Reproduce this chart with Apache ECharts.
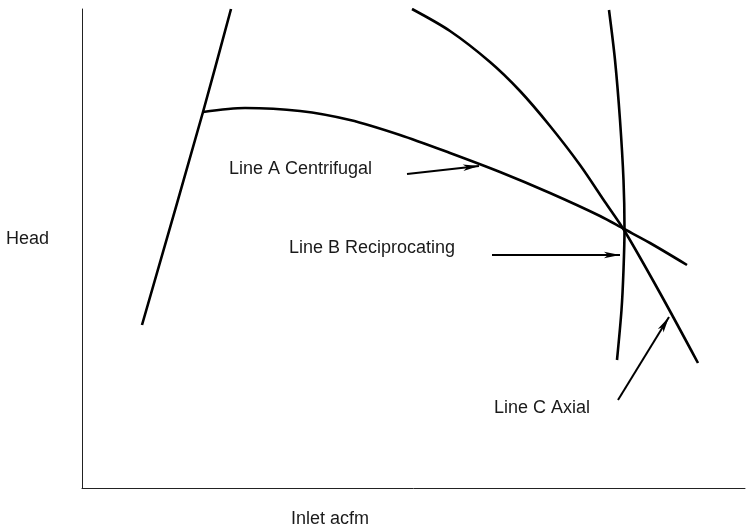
<!DOCTYPE html>
<html>
<head>
<meta charset="utf-8">
<script src="https://cdn.jsdelivr.net/npm/echarts@6/dist/echarts.min.js"></script>
<style>html,body{margin:0;padding:0;background:#fff;}#c{width:747px;height:529px;}</style>
</head>
<body>
<div id="c"></div>
<script>
// Arbitrary units (no ticks in the original): x = inlet acfm, y = head
var surgeLine = [[60, 163], [121, 376], [149, 479]];
var lineA = [[121, 376], [163, 380], [218, 377], [268, 368], [318, 353], [368, 335], [418, 316], [468, 295], [518, 272], [542, 259], [568, 245], [605, 223]];
var lineB = [[527, 478], [533, 428], [538, 368], [541.5, 308], [542.5, 259], [541.5, 218], [539.5, 178], [535, 128]];
var lineC = [[330, 479], [368, 457], [408, 426], [438, 397], [468, 362], [498, 323], [523, 286], [542, 258], [578, 195], [616, 125]];
var arrowA = [[325, 314], [397, 322]];
var arrowB = [[410, 233], [538, 233]];
var arrowC = [[536, 88], [587, 171]];
var xRange = [0, 663];
var yRange = [0, 479];

var chart = echarts.init(document.getElementById('c'), null, {renderer: 'canvas'});
var font = 'Liberation Sans, Arial, sans-serif';
function curve(name, data) {
  return {
    name: name, type: 'line', data: data, smooth: 0.3, symbol: 'none',
    lineStyle: {color: '#000', width: 2.6}, silent: true, animation: false
  };
}
function arrow(coords) {
  return {
    type: 'line', data: [], silent: true, animation: false,
    markLine: {
      silent: true, animation: false,
      symbol: ['none', 'arrow'], symbolSize: [5, 16],
      lineStyle: {color: '#000', width: 2, type: 'solid'},
      label: {show: false},
      data: [[{coord: coords[0]}, {coord: coords[1]}]]
    }
  };
}
var textStyle = {fill: '#1a1a1a', font: '18px ' + font};
chart.setOption({
  animation: false,
  grid: {left: 82, right: 2, top: 9, bottom: 41, containLabel: false},
  xAxis: {
    type: 'value', min: xRange[0], max: xRange[1],
    axisLine: {show: true, onZero: false, lineStyle: {color: '#222', width: 1}},
    axisTick: {show: false}, axisLabel: {show: false}, splitLine: {show: false}
  },
  yAxis: {
    type: 'value', min: yRange[0], max: yRange[1],
    axisLine: {show: true, onZero: false, lineStyle: {color: '#222', width: 1}},
    axisTick: {show: false}, axisLabel: {show: false}, splitLine: {show: false}
  },
  series: [
    curve('Surge', surgeLine),
    curve('Line A Centrifugal', lineA),
    curve('Line B Reciprocating', lineB),
    curve('Line C Axial', lineC),
    arrow(arrowA), arrow(arrowB), arrow(arrowC)
  ],
  graphic: [
    {type: 'text', left: 6, top: 230, style: Object.assign({text: 'Head'}, textStyle)},
    {type: 'text', left: 291, top: 510, style: Object.assign({text: 'Inlet acfm'}, textStyle)},
    {type: 'text', left: 229, top: 160, style: Object.assign({text: 'Line A Centrifugal'}, textStyle)},
    {type: 'text', left: 289, top: 239, style: Object.assign({text: 'Line B Reciprocating'}, textStyle)},
    {type: 'text', left: 494, top: 399, style: Object.assign({text: 'Line C Axial'}, textStyle)}
  ]
});
</script>
</body>
</html>
